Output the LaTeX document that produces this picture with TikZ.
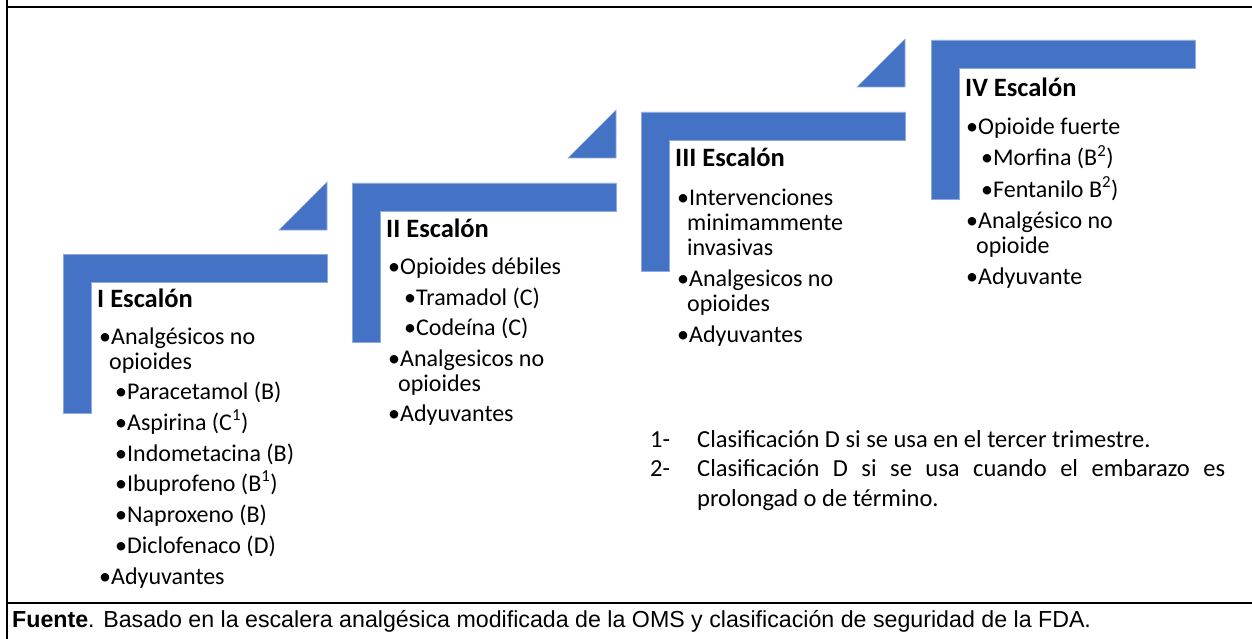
\documentclass[tikz,border=0pt]{standalone}
\usepackage{fontspec}
\setmainfont{Carlito}
\newfontfamily\arialfont{Liberation Sans}
\usepackage{tikz}
\definecolor{azul}{HTML}{4472C4}
\tikzset{
  bloque/.style={fill=azul, draw=azul!60!white, line width=0.6pt},
  texto/.style={anchor=base west, inner sep=0pt, font=\fontsize{24}{26}\selectfont},
  nota/.style={texto, font=\fontsize{24.5}{26}\selectfont},
  marco/.style={line width=2pt}
}
\newcommand{\escalon}[4]{\filldraw[bloque] ( #1 , #2 ) -- ( #3 , #2 ) -- ( #3 , #2 + 28 ) -- ( #1 + 28 , #2 + 28 ) -- ( #1 + 28 , #4 ) -- ( #1 , #4 ) -- cycle;}
\newcommand{\flecha}[2]{\filldraw[bloque] ( #1 - 48 , #2 ) -- ( #1 , #2 ) -- ( #1 , #2 - 48 ) -- cycle;}
\newcommand{\titulo}[4]{\node[texto, font=\fontsize{26.5}{28}\selectfont\bfseries] (#1) at ( #2 , #3 ) {#4};}
\newcommand{\vineta}[4]{\node[texto] (#1) at ( #2 , #3 ) {•#4};}
\newcommand{\linea}[4]{\node[texto] (#1) at ( #2 , #3 ) {#4};}

\begin{document}
\begin{tikzpicture}[x=1pt, y=-1pt]
        \useasboundingbox (0,0) rectangle (1252,639);
        % frame
        \draw[marco] (7,0) -- (7,639);
        \draw[marco] (7,7.5) -- (1252,7.5);
        \draw[marco] (7,603) -- (1252,603);
        % steps
        \escalon{63}{254}{327}{413}
        \flecha{327}{230}
        \escalon{352}{183}{616}{342}
        \flecha{616}{158}
        \escalon{641}{112}{905}{271}
        \flecha{905}{87}
        \escalon{931}{40}{1195}{199}
        % step I
        \titulo{t1}{97}{307}{I Escalón}
        \vineta{a1}{99}{344}{Analgésicos no}
        \linea{a2}{109}{369}{opioides}
        \vineta{a3}{115}{399}{Paracetamol (B)}
        \vineta{a4}{115}{430}{Aspirina (C\textsuperscript{1})}
        \vineta{a5}{115}{461}{Indometacina (B)}
        \vineta{a6}{115}{491}{Ibuprofeno (B\textsuperscript{1})}
        \vineta{a7}{115}{522}{Naproxeno (B)}
        \vineta{a8}{115}{553}{Diclofenaco (D)}
        \vineta{a9}{99}{584}{Adyuvantes}
        % step II
        \titulo{t2}{386}{237}{II Escalón}
        \vineta{b1}{388}{274}{Opioides débiles}
        \vineta{b2}{404}{305}{Tramadol (C)}
        \vineta{b3}{404}{335}{Codeína (C)}
        \vineta{b4}{388}{366}{Analgesicos no}
        \linea{b5}{398}{391}{opioides}
        \vineta{b6}{388}{421}{Adyuvantes}
        % step III
        \titulo{t3}{675}{167}{III Escalón}
        \vineta{c1}{677}{205}{Intervenciones}
        \linea{c2}{687}{230}{minimammente}
        \linea{c3}{687}{255}{invasivas}
        \vineta{c4}{677}{286}{Analgesicos no}
        \linea{c5}{687}{311}{opioides}
        \vineta{c6}{677}{342}{Adyuvantes}
        % step IV
        \titulo{t4}{965}{97}{IV Escalón}
        \vineta{d1}{966}{135}{Opioide fuerte}
        \vineta{d2}{981}{166}{Morfina (B\textsuperscript{2})}
        \vineta{d3}{981}{197}{Fentanilo B\textsuperscript{2})}
        \vineta{d4}{966}{228}{Analgésico no}
        \linea{d5}{976}{253}{opioide}
        \vineta{d6}{966}{284}{Adyuvante}
        % notes
        \node[nota] (n1) at (650,447) {1-};
        \node[nota] (m1) at (697,447) {Clasificación D si se usa en el tercer trimestre.};
        \node[nota] (n2) at (650,476) {2-};
        \node[nota] (m2) at (697,476) {\makebox[528pt][s]{Clasificación D si se usa cuando el embarazo es}};
        \node[nota] (m3) at (697,506) {prolongad o de término.};
        % source
        \node[anchor=base west, inner sep=0pt, font=\arialfont\fontsize{23.2}{26}\selectfont] (fte) at (12,627) {\textbf{Fuente}. Basado en la escalera analgésica modificada de la OMS y clasificación de seguridad de la FDA.};
\end{tikzpicture}
\end{document}
